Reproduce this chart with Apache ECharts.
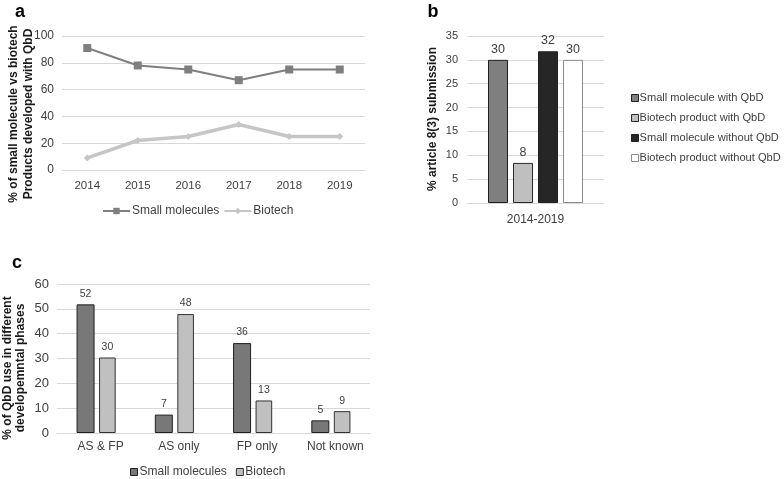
<!DOCTYPE html>
<html>
<head>
<meta charset="utf-8">
<title>QbD charts</title>
<script src="https://cdn.jsdelivr.net/npm/echarts@6.0.0/dist/echarts.min.js"></script>
<style>
  html, body { margin: 0; padding: 0; background: #fff; }
  #wrap { position: relative; width: 784px; height: 479px; }
  .panel { position: absolute; }
  #panelA { left: 0; top: 0; width: 400px; height: 250px; }
  #panelB { left: 400px; top: 0; width: 384px; height: 250px; }
  #panelC { left: 0; top: 250px; width: 400px; height: 229px; }
</style>
</head>
<body>
<div id="wrap">
  <div id="panelA" class="panel"></div>
  <div id="panelB" class="panel"></div>
  <div id="panelC" class="panel"></div>
</div>
<script>
// 数据
const yearsA = ['2014', '2015', '2016', '2017', '2018', '2019']
const smallMoleculesA = [91, 78, 75, 67, 75, 75]
const biotechA = [9, 22, 25, 34, 25, 25]

const periodB = ['2014-2019']
const seriesNamesB = ['Small molecule with QbD', 'Biotech product with QbD', 'Small molecule without QbD', 'Biotech product without QbD']
const valuesB = [30, 8.4, 31.8, 30]

const phasesC = ['AS & FP', 'AS only', 'FP only', 'Not known']
const smallMoleculesC = [51.8, 7.4, 36.2, 5.1]
const biotechC = [30.4, 47.9, 13.1, 8.8]

const FONT = 'Liberation Sans, Arial, sans-serif'
const GRID_LINE = '#d9d9d9'
const TEXT = '#404040'

// 公共样式
function yAxis(max, interval, fontSize, margin) {
  return {
    type: 'value',
    min: 0,
    max: max,
    interval: interval,
    axisLine: { show: false },
    axisTick: { show: false },
    axisLabel: { color: TEXT, fontSize: fontSize, fontFamily: FONT, margin: margin },
    splitLine: { lineStyle: { color: GRID_LINE, width: 1 } }
  }
}
function xAxis(data, fontSize, margin, extra) {
  return {
    type: 'category',
    data: data,
    axisLine: { lineStyle: { color: GRID_LINE, width: 1 } },
    axisTick: { show: false },
    axisLabel: Object.assign({ color: TEXT, fontSize: fontSize, fontFamily: FONT, margin: margin }, extra || {})
  }
}
function panelLetter(text, x, y) {
  return {
    type: 'text', x: x, y: y,
    style: { text: text, font: 'bold 18px ' + FONT, fill: '#000', align: 'center', verticalAlign: 'middle' }
  }
}
function axisTitle(text, x, y, lineHeight) {
  return {
    type: 'text', x: x, y: y, rotation: Math.PI / 2,
    style: { text: text, font: 'bold 12px ' + FONT, fill: '#1a1a1a', align: 'center', verticalAlign: 'middle', lineHeight: lineHeight }
  }
}
const roundLabel = p => Math.round(p.value)

// a: 折线
const chartA = echarts.init(document.getElementById('panelA'))
chartA.setOption({
  animation: false,
  textStyle: { fontFamily: FONT },
  grid: { left: 62, top: 36, width: 303, height: 134 },
  xAxis: xAxis(yearsA, 11.5, 10),
  yAxis: yAxis(100, 20, 12, 8),
  legend: {
    left: 97, top: 200,
    itemWidth: 27, itemHeight: 8, itemGap: 4,
    textStyle: { color: TEXT, fontSize: 12, fontFamily: FONT, padding: [0, 0, 0, -3] },
    data: ['Small molecules', 'Biotech']
  },
  graphic: [
    panelLetter('a', 20, 12),
    axisTitle('% of small molecule vs biotech\nProducts developed with QbD', 21, 114, 15)
  ],
  series: [
    {
      name: 'Small molecules', type: 'line', data: smallMoleculesA,
      symbol: 'rect', symbolSize: 8,
      itemStyle: { color: '#7f7f7f' },
      lineStyle: { color: '#7f7f7f', width: 2 }
    },
    {
      name: 'Biotech', type: 'line', data: biotechA,
      symbol: 'diamond', symbolSize: 7,
      itemStyle: { color: '#c6c6c6' },
      lineStyle: { color: '#c6c6c6', width: 3.5 }
    }
  ]
})

// b: 柱状
const colorsB = ['#7f7f7f', '#bfbfbf', '#262626', '#ffffff']
const bordersB = ['#1f1f1f', '#2a2a2a', '#1f1f1f', '#8c8c8c']
const chartB = echarts.init(document.getElementById('panelB'))
chartB.setOption({
  animation: false,
  textStyle: { fontFamily: FONT },
  grid: { left: 67, top: 36, width: 137, height: 167 },
  xAxis: xAxis(periodB, 12, 11),
  yAxis: yAxis(35, 5, 11, 9),
  legend: {
    orient: 'vertical', left: 226, top: 86,
    icon: 'rect', itemWidth: 7, itemHeight: 7, itemGap: 6,
    itemStyle: { borderWidth: 1 },
    textStyle: { color: TEXT, fontSize: 11.1, fontFamily: FONT, lineHeight: 14, padding: [0, 0, 0, -4] },
    data: seriesNamesB
  },
  graphic: [
    panelLetter('b', 33, 12),
    axisTitle('% article 8(3) submission', 33, 119, 15)
  ],
  series: seriesNamesB.map((name, i) => ({
    name: name, type: 'bar', data: [valuesB[i]],
    barWidth: 20, barGap: '25%',
    itemStyle: { color: colorsB[i], borderColor: bordersB[i], borderWidth: 1 },
    label: { show: true, position: 'top', distance: 4, color: TEXT, fontSize: 12.5, fontFamily: FONT, formatter: roundLabel }
  }))
})

// c: 分组柱状
const chartC = echarts.init(document.getElementById('panelC'))
chartC.setOption({
  animation: false,
  textStyle: { fontFamily: FONT },
  grid: { left: 57, top: 34, width: 313, height: 149 },
  xAxis: xAxis(phasesC, 12, 8, { padding: [0, 0, 0, 9] }),
  yAxis: yAxis(60, 10, 13, 8),
  legend: {
    left: 125, top: 211,
    icon: 'rect', itemWidth: 7, itemHeight: 7, itemGap: 9,
    itemStyle: { borderWidth: 1 },
    textStyle: { color: TEXT, fontSize: 12, fontFamily: FONT, padding: [0, 0, 0, -3] },
    data: ['Small molecules', 'Biotech']
  },
  graphic: [
    panelLetter('c', 17, 13),
    axisTitle('% of QbD use in different\ndevelopemntal phases', 14, 118, 13.5)
  ],
  series: [
    {
      name: 'Small molecules', type: 'bar', data: smallMoleculesC,
      barWidth: 18, barGap: '25%',
      itemStyle: { color: '#787878', borderColor: '#1f1f1f', borderWidth: 1 },
      label: { show: true, position: 'top', distance: 5, color: TEXT, fontSize: 10.5, fontFamily: FONT, formatter: roundLabel }
    },
    {
      name: 'Biotech', type: 'bar', data: biotechC,
      itemStyle: { color: '#c0c0c0', borderColor: '#333333', borderWidth: 1 },
      label: { show: true, position: 'top', distance: 5, color: TEXT, fontSize: 10.5, fontFamily: FONT, formatter: roundLabel }
    }
  ]
})
</script>
</body>
</html>
